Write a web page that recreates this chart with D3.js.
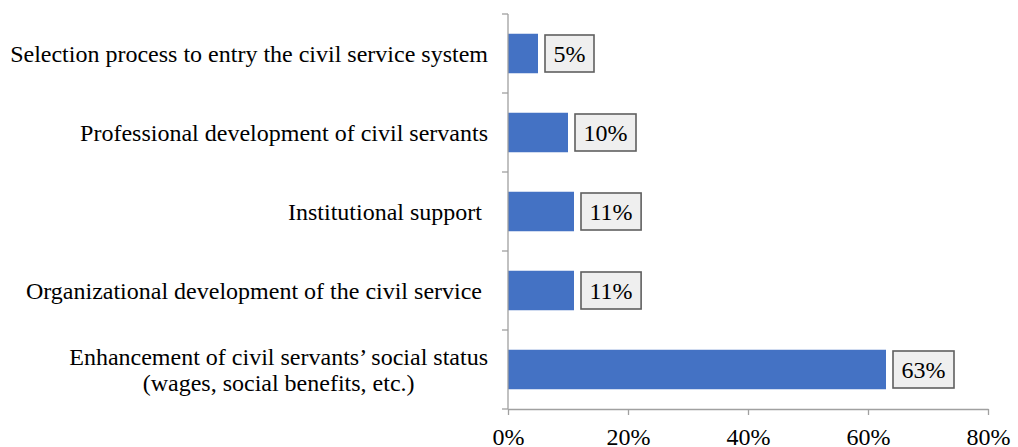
<!DOCTYPE html>
<html>
<head>
<meta charset="utf-8">
<script src="https://cdn.jsdelivr.net/npm/d3@7"></script>
<style>
  html, body { margin: 0; padding: 0; background: #fff; }
  svg { display: block; }
  text { font-family: "Liberation Serif", "Times New Roman", serif; fill: #000; }
</style>
</head>
<body>
<svg id="chart" width="1018" height="447"></svg>
<script>
// Data (top to bottom)
const categories = [
  ["Selection process to entry the civil service system"],
  ["Professional development of civil servants"],
  ["Institutional support "],
  ["Organizational development of the civil service "],
  ["Enhancement of civil servants\u2019 social status", "(wages, social benefits, etc.)"]
];
const values = [5, 10, 11, 11, 63];
const xTicks = [0, 20, 40, 60, 80];

(function () {
const svg = d3.select("#chart");
const plotLeft = 508, plotRight = 988, plotTop = 14, plotBottom = 409;
const fontSize = 24;
const axisColor = "#a0a0a0";

const ids = categories.map((c, i) => i);
const x = d3.scaleLinear().domain([0, 80]).range([plotLeft, plotRight]);
const y = d3.scaleBand().domain(ids).range([plotTop, plotBottom]).paddingInner(0.5).paddingOuter(0.25);
const boundary = d3.scaleLinear().domain([0, categories.length]).range([plotTop, plotBottom]);

// Bars
svg.append("g").selectAll("rect").data(values).join("rect")
  .attr("x", x(0))
  .attr("y", (d, i) => y(i))
  .attr("width", d => x(d) - x(0))
  .attr("height", y.bandwidth())
  .attr("fill", "#4472C4");

// X axis
const xAxis = svg.append("g")
  .attr("transform", `translate(0,${plotBottom})`)
  .call(d3.axisBottom(x).tickValues(xTicks).tickFormat(d => d + "%").tickSize(6).tickSizeOuter(0).tickPadding(13));
xAxis.select(".domain").attr("stroke", axisColor).attr("stroke-width", 1.3);
xAxis.selectAll(".tick line").attr("stroke", axisColor).attr("stroke-width", 1.3);
xAxis.selectAll(".tick text").style("font-size", fontSize + "px").style("font-family", "'Liberation Serif', serif").attr("fill", "#000");

// Y axis line and boundary ticks
const yg = svg.append("g");
yg.append("line").attr("x1", plotLeft).attr("x2", plotLeft).attr("y1", plotTop).attr("y2", plotBottom)
  .attr("stroke", axisColor).attr("stroke-width", 1.3);
yg.selectAll("line.bt").data(d3.range(categories.length + 1)).join("line").attr("class", "bt")
  .attr("x1", plotLeft - 6).attr("x2", plotLeft)
  .attr("y1", d => boundary(d)).attr("y2", d => boundary(d))
  .attr("stroke", axisColor).attr("stroke-width", 1.3);

// Category labels
const labelG = svg.append("g");
categories.forEach((lines, i) => {
  const cy = y(i) + y.bandwidth() / 2;
  const lh = 26;
  const n = lines.length;
  const t1 = labelG.append("text")
    .attr("x", plotLeft - 20)
    .attr("y", cy - (n - 1) * lh / 2)
    .attr("dy", "0.34em")
    .attr("text-anchor", "end")
    .attr("xml:space", "preserve")
    .style("white-space", "pre")
    .style("font-size", fontSize + "px")
    .text(lines[0]);
  if (n > 1) {
    const bb = t1.node().getBBox();
    const cx = bb.x + bb.width / 2;
    for (let k = 1; k < n; k++) {
      labelG.append("text")
        .attr("x", cx)
        .attr("y", cy - (n - 1) * lh / 2 + k * lh)
        .attr("dy", "0.34em")
        .attr("text-anchor", "middle")
        .style("font-size", fontSize + "px")
        .text(lines[k]);
    }
  }
});

// Value labels with boxes
const vg = svg.append("g");
values.forEach((v, i) => {
  const cy = y(i) + y.bandwidth() / 2;
  const g = vg.append("g");
  const t = g.append("text")
    .attr("y", cy)
    .attr("dy", "0.34em")
    .style("font-size", fontSize + "px")
    .text(v + "%");
  const w = t.node().getComputedTextLength();
  const padX = 8.5, h = 37;
  const bx = x(v) + 7;
  g.insert("rect", "text")
    .attr("x", bx).attr("y", cy - h / 2)
    .attr("width", w + 2 * padX).attr("height", h)
    .attr("fill", "#efefef").attr("stroke", "#5f5f5f").attr("stroke-width", 1.6);
  t.attr("x", bx + padX);
});
})();
</script>
</body>
</html>
